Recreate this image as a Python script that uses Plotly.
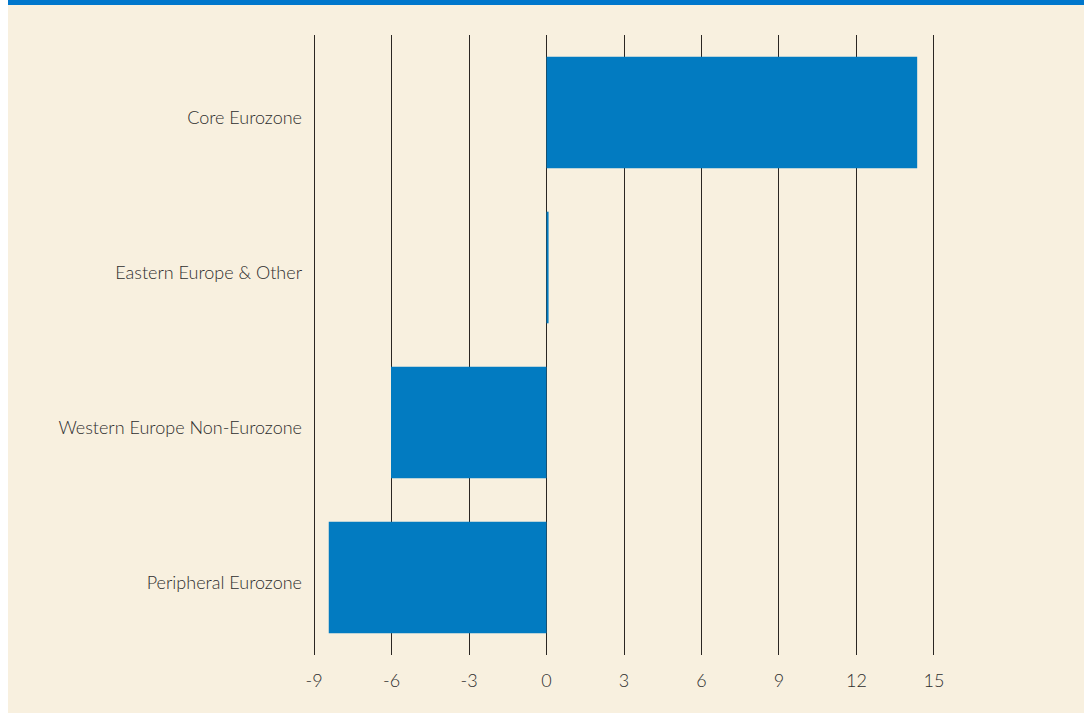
import plotly.graph_objects as go

categories = ["Core Eurozone", "Eastern Europe & Other", "Western Europe Non-Eurozone", "Peripheral Eurozone"]
values = [14.35, 0.08, -6.02, -8.43]
tick_vals = [-9, -6, -3, 0, 3, 6, 9, 12, 15]
tick_text = ["-9", "-6", "-3", "0", "3", "6", "9", "12", "15"]

BEIGE = "#F8F0DF"
BLUE = "#027BC1"
TEXT = "#2e2e2e"
W, H = 1084, 713
L, R, T, B = 313, 149, 35, 58
PW, PH = W - L - R, H - T - B


def px_x(p):
    return (p - L) / PW


def px_y(p):
    return (H - B - p) / PH


fig = go.Figure()
fig.add_trace(go.Bar(
    x=values, y=categories, orientation="h",
    marker=dict(color=BLUE, line=dict(width=0)),
    width=0.72,
    hoverinfo="x+y",
))

fig.update_layout(
    width=W, height=H,
    paper_bgcolor="white",
    plot_bgcolor="rgba(0,0,0,0)",
    margin=dict(l=L, r=R, t=T, b=B),
    showlegend=False,
    font=dict(family="Lato", color=TEXT, size=18, weight=300),
    xaxis=dict(
        range=[-9.04, 15.04], tickvals=tick_vals, ticktext=tick_text,
        showgrid=True, gridcolor="#2b2622", gridwidth=1.4,
        zeroline=False, showline=False, ticks="", ticklabelstandoff=13,
        tickfont=dict(family="Lato", size=18, color=TEXT, weight=300),
        fixedrange=True,
    ),
    yaxis=dict(
        categoryorder="array", categoryarray=categories[::-1],
        range=[-0.5, 3.5], showgrid=False, zeroline=False, showline=False,
        ticks="", ticklabelstandoff=10, ticklabelshift=5,
        tickfont=dict(family="Lato", size=18, color=TEXT, weight=300),
        fixedrange=True,
    ),
    shapes=[
        dict(type="rect", xref="paper", yref="paper",
             x0=px_x(8), x1=px_x(W), y0=px_y(H), y1=px_y(5),
             fillcolor=BEIGE, line=dict(width=0), layer="below"),
        dict(type="rect", xref="paper", yref="paper",
             x0=px_x(8), x1=px_x(W), y0=px_y(5), y1=px_y(0),
             fillcolor="#0077CC", line=dict(width=0), layer="below"),
    ],
)

fig.write_html(
    "out.html",
    config={"displayModeBar": False},
    post_script="document.body.style.margin='0';document.body.style.overflow='hidden';",
)
